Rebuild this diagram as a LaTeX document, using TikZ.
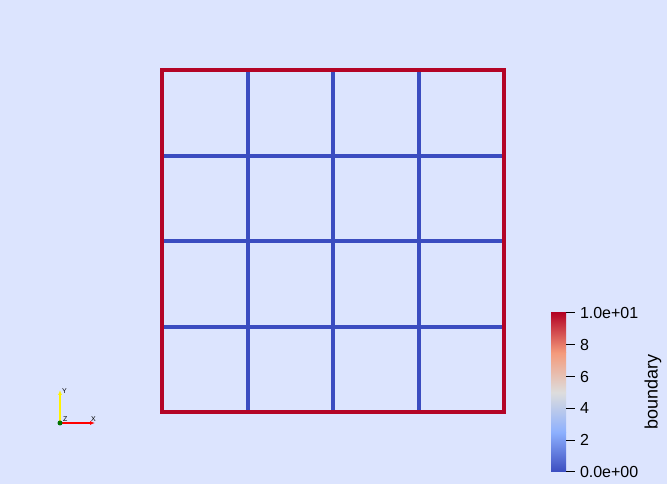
\documentclass[tikz,border=0pt]{standalone}
\usepackage{fontspec}
\setmainfont{Liberation Sans}
\usetikzlibrary{arrows.meta}

\definecolor{bg}{RGB}{220,228,254}
\definecolor{cwblue}{RGB}{59,76,192}
\definecolor{cwlblue}{RGB}{141,176,254}
\definecolor{cwgray}{RGB}{221,221,221}
\definecolor{cwlred}{RGB}{244,154,123}
\definecolor{cwred}{RGB}{180,4,38}

\begin{document}
\begin{tikzpicture}[x=1pt, y=1pt]
\tikzset{ >={Latex[length=5pt,width=4pt]}, inner sep=0pt, outer sep=0pt,
  inner/.style={cwblue, line width=4pt},
  border/.style={cwred, line width=4pt, line join=miter},
  tick/.style={black, line width=1pt},
  ticklabel/.style={anchor=west, font=\fontsize{16}{16}\selectfont},
  axislabel/.style={font=\fontsize{7}{7}\selectfont},
}

% background
\fill [bg] (0,0) rectangle (667,484);
\useasboundingbox (0,0) rectangle (667,484);

% mesh
\foreach \i in {1,2,3} {
  \draw [inner] (162+85.5*\i,71.5) -- (162+85.5*\i,413.5);
  \draw [inner] (162,71.5+85.5*\i) -- (504,71.5+85.5*\i);
}
\draw [border] (162,71.5) rectangle (504,413.5);

% color bar
\shade [bottom color=cwblue,  top color=cwlblue] (551,12)     rectangle (566,51.75);
\shade [bottom color=cwlblue, top color=cwgray]  (551,51.75)  rectangle (566,91.5);
\shade [bottom color=cwgray,  top color=cwlred]  (551,91.5)   rectangle (566,131.25);
\shade [bottom color=cwlred,  top color=cwred]   (551,131.25) rectangle (566,171);

\foreach \v/\t in {0/0.0e+00, 2/2, 4/4, 6/6, 8/8, 10/1.0e+01} {
  \draw [tick] (566,12+15.9*\v) -- (575,12+15.9*\v);
  \node [ticklabel] at (580,12+15.9*\v) {\t};
}
\node [rotate=90, font=\fontsize{18}{18}\selectfont] (title) at (653,92) {boundary};

% axes triad
\coordinate (O) at (60,61);
\coordinate (Xend) at (95,61);
\coordinate (Yend) at (60,94);
\draw [->, red, line width=1.2pt] (O) -- (Xend);
\draw [->, yellow, line width=1.2pt] (O) -- (Yend);
\fill [green!45!black] (O) circle (2.5pt);
\node [axislabel, anchor=south west] (X) at (91,62) {X};
\node [axislabel, anchor=west] (Y) at (62,93) {Y};
\node [axislabel, anchor=south west] (Z) at (63,62) {Z};

\end{tikzpicture}
\end{document}
